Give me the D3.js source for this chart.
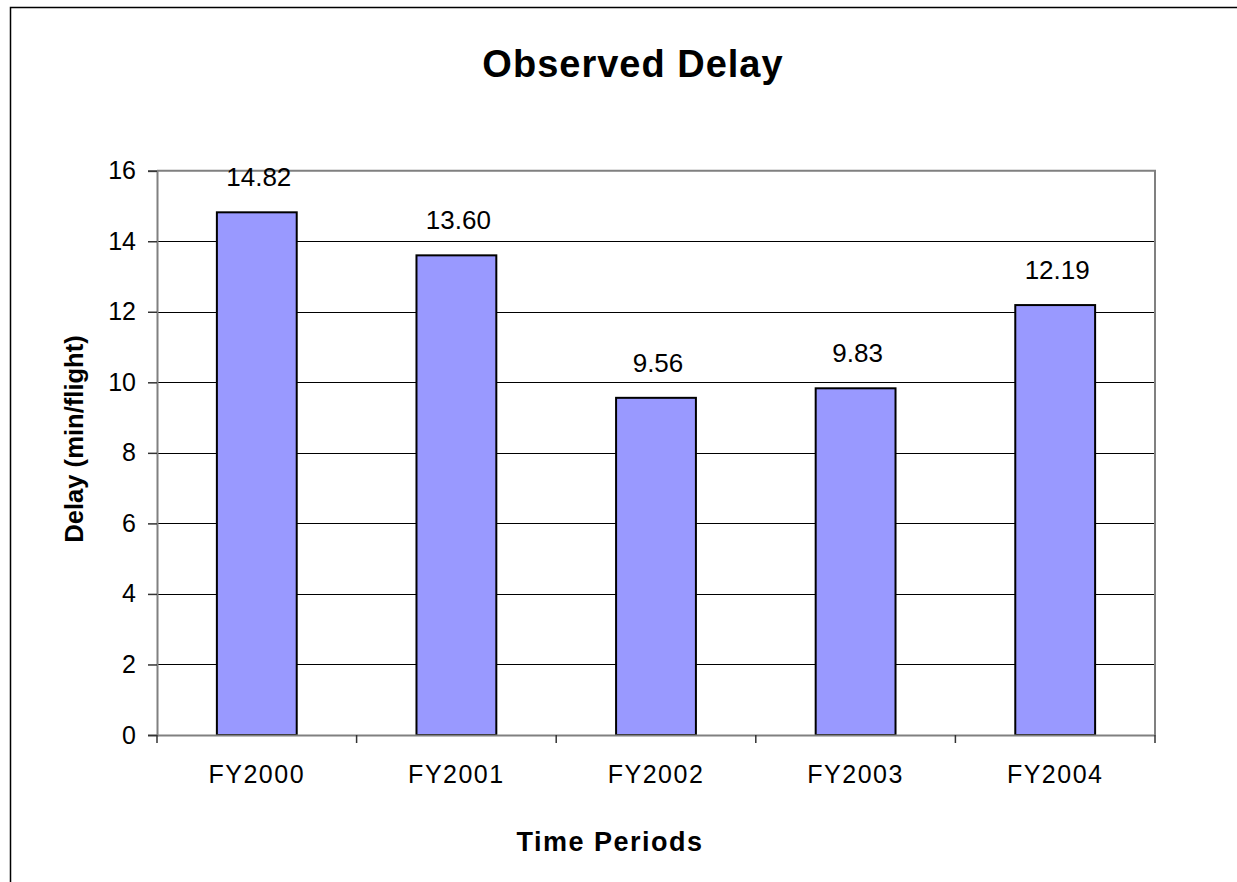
<!DOCTYPE html>
<html>
<head>
<meta charset="utf-8">
<script src="https://cdn.jsdelivr.net/npm/d3@7"></script>
<style>
  body { margin: 0; background: #fff; }
  text { font-family: "Liberation Sans", Arial, sans-serif; fill: #000; }
</style>
</head>
<body>
<div id="chart"></div>
<script>
// Chart data
const periods = ["FY2000", "FY2001", "FY2002", "FY2003", "FY2004"];
const delays = [14.82, 13.60, 9.56, 9.83, 12.19];
const yTicks = [0, 2, 4, 6, 8, 10, 12, 14, 16];

(function() {
    const W = 1237, H = 882;
    // plot area box
    const plot = { left: 157, top: 170.7, right: 1155, bottom: 735 };

    const svg = d3.select("#chart")
        .append("svg")
        .attr("width", W)
        .attr("height", H);

    // outer chart border (right / bottom run off the page)
    svg.append("rect")
        .attr("x", 10.5).attr("y", 7.5)
        .attr("width", 1400).attr("height", 1000)
        .attr("fill", "#fff")
        .attr("stroke", "#000")
        .attr("stroke-width", 1.5);

    const x = d3.scaleBand()
        .domain(periods)
        .range([plot.left, plot.right]);

    const y = d3.scaleLinear()
        .domain([0, 16])
        .range([plot.bottom, plot.top]);

    // horizontal gridlines
    svg.append("g")
        .selectAll("line")
        .data(yTicks.filter(d => d > 0 && d < 16))
        .enter()
        .append("line")
        .attr("x1", plot.left).attr("x2", plot.right)
        .attr("y1", d => Math.round(y(d)) + 0.5)
        .attr("y2", d => Math.round(y(d)) + 0.5)
        .attr("stroke", "#000")
        .attr("stroke-width", 1);

    // gray border on top and right of the plot area
    svg.append("path")
        .attr("d", `M${plot.left},${y(16)}H${plot.right}V${plot.bottom}`)
        .attr("fill", "none")
        .attr("stroke", "#808080")
        .attr("stroke-width", 2);

    // bars
    const barW = x.bandwidth() * 0.4;
    svg.append("g")
        .selectAll("rect")
        .data(delays)
        .enter()
        .append("rect")
        .attr("x", (d, i) => x(periods[i]) + (x.bandwidth() - barW) / 2)
        .attr("y", d => y(d))
        .attr("width", barW)
        .attr("height", d => y(0) - y(d))
        .attr("fill", "#9999ff")
        .attr("stroke", "#000")
        .attr("stroke-width", 2);

    // value labels
    svg.append("g")
        .selectAll("text")
        .data(delays)
        .enter()
        .append("text")
        .attr("x", (d, i) => x(periods[i]) + x.bandwidth() / 2 + 2)
        .attr("y", d => y(d) - 26)
        .attr("text-anchor", "middle")
        .style("font-size", "26px")
        .text(d => d.toFixed(2));

    // y axis
    const yAxis = svg.append("g")
        .attr("transform", `translate(${plot.left},0)`)
        .call(d3.axisLeft(y).tickValues(yTicks).tickSize(9).tickPadding(12));
    yAxis.select(".domain").attr("stroke", "#808080").attr("stroke-width", 2);
    yAxis.selectAll(".tick line").attr("stroke", "#333").attr("stroke-width", 1.5);
    yAxis.selectAll(".tick text")
        .style("font-size", "25px")
        .style("font-family", "'Liberation Sans', Arial, sans-serif")
        .attr("fill", "#000");

    // x axis: ticks sit on the category boundaries
    const xAxis = svg.append("g")
        .attr("transform", `translate(0,${plot.bottom})`)
        .call(d3.axisBottom(x).tickSize(0).tickPadding(30));
    xAxis.select(".domain").attr("stroke", "#808080").attr("stroke-width", 2);
    xAxis.selectAll(".tick text")
        .style("font-size", "25px")
        .style("letter-spacing", "1.5px")
        .style("font-family", "'Liberation Sans', Arial, sans-serif")
        .attr("fill", "#000")
        .attr("dy", "0.71em");

    const bounds = periods.map(p => x(p)).concat([plot.right]);
    svg.append("g")
        .selectAll("line")
        .data(bounds)
        .enter()
        .append("line")
        .attr("x1", d => d).attr("x2", d => d)
        .attr("y1", plot.bottom).attr("y2", plot.bottom + 8)
        .attr("stroke", "#333")
        .attr("stroke-width", 1.5);

    // title
    svg.append("text")
        .attr("x", 633)
        .attr("y", 77)
        .attr("text-anchor", "middle")
        .style("font-size", "38px")
        .style("font-weight", "bold")
        .style("letter-spacing", "1px")
        .text("Observed Delay");

    // axis titles
    svg.append("text")
        .attr("transform", "translate(83,439) rotate(-90)")
        .attr("text-anchor", "middle")
        .style("font-size", "25.6px")
        .style("font-weight", "bold")
        .text("Delay (min/flight)");

    svg.append("text")
        .attr("x", 610)
        .attr("y", 851)
        .attr("text-anchor", "middle")
        .style("font-size", "27px")
        .style("font-weight", "bold")
        .style("letter-spacing", "1.5px")
        .text("Time Periods");
})();
</script>
</body>
</html>
